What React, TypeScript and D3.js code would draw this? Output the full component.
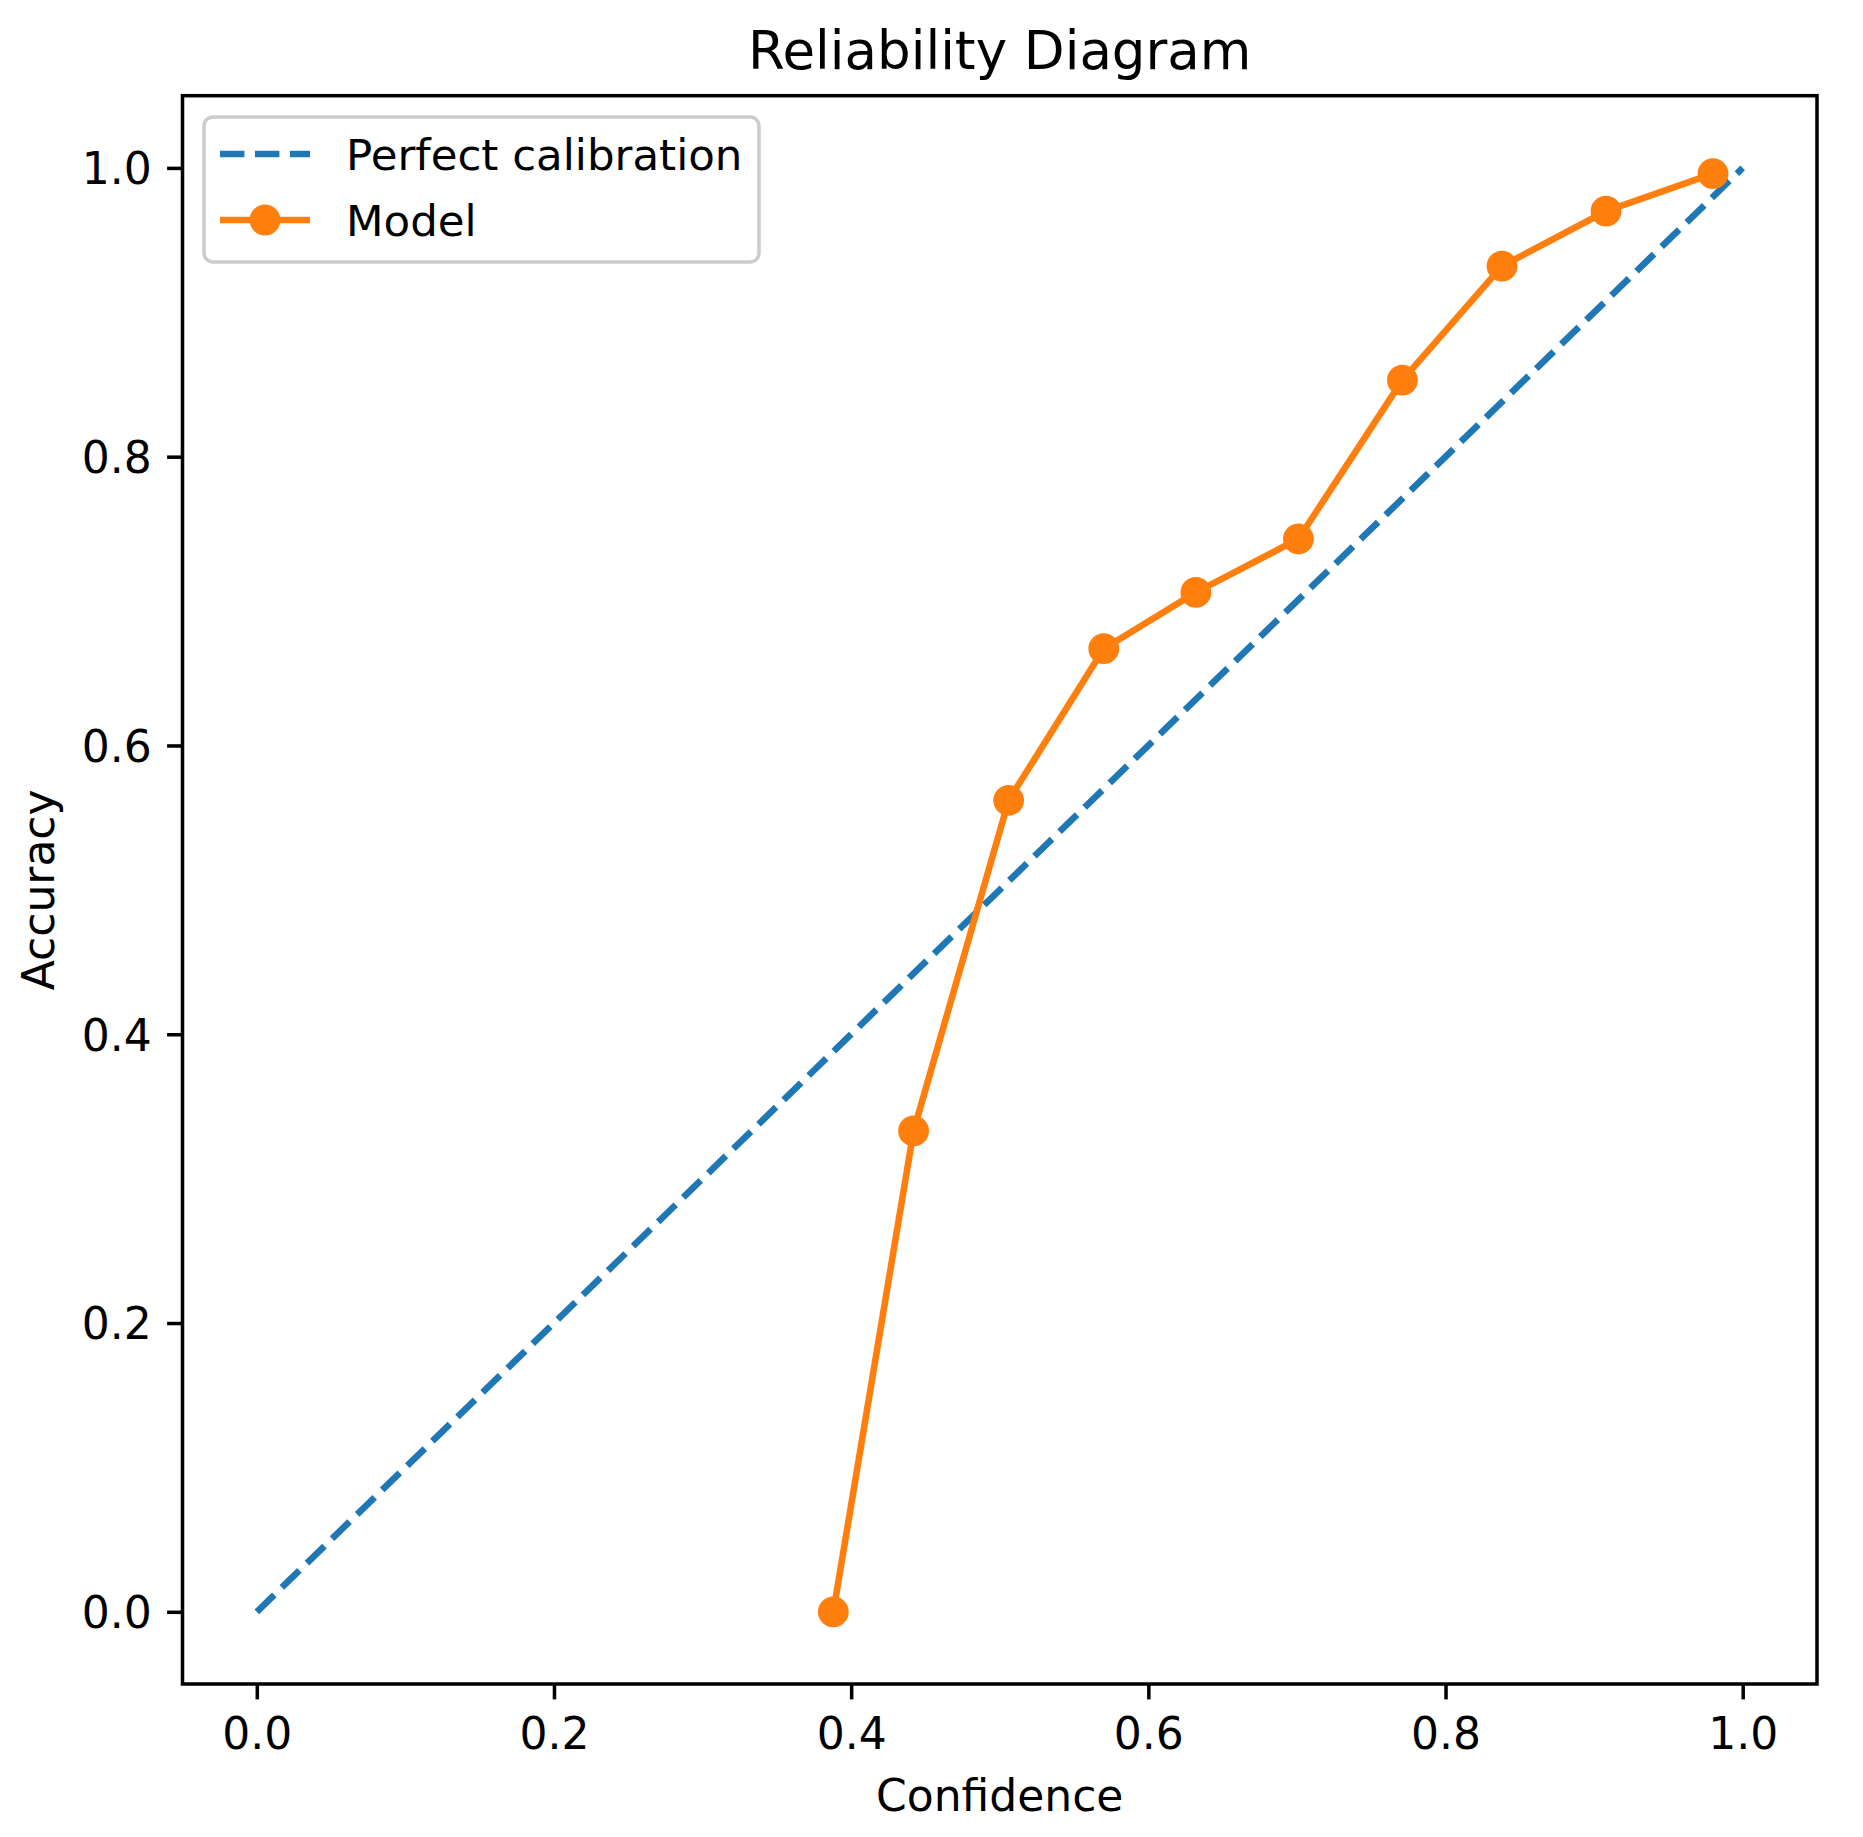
import * as d3 from 'd3';
import React, { useEffect, useRef } from 'react';

// binned confidence vs. observed accuracy
const confidence = [0.388, 0.442, 0.506, 0.570, 0.632, 0.701, 0.771, 0.838, 0.908, 0.980];
const accuracy = [0.0, 0.333, 0.562, 0.667, 0.706, 0.743, 0.853, 0.932, 0.970, 0.996];

// diagonal reference
const perfect = [0, 1];

const xTicks = [0, 0.2, 0.4, 0.6, 0.8, 1.0];
const yTicks = [0, 0.2, 0.4, 0.6, 0.8, 1.0];

const seriesNames = ['Perfect calibration', 'Model'];

const WIDTH = 1863;
const HEIGHT = 1837;

export default function App() {
    const ref = useRef(null);

    useEffect(() => {
        const el = ref.current;
        d3.select(el).selectAll('*').remove();

        const font = 'DejaVu Sans, Liberation Sans, sans-serif';
        const pt = 4.4; // px per point
        const blue = '#1f77b4';
        const orange = '#ff7f0e';

        const box = { left: 182.5, right: 1817, top: 95.7, bottom: 1684 };

        const svg = d3.select(el)
            .attr('width', WIDTH)
            .attr('height', HEIGHT)
            .style('background', 'white');

        svg.append('rect')
            .attr('width', WIDTH)
            .attr('height', HEIGHT)
            .attr('fill', 'white');

        const x = d3.scaleLinear()
            .domain([-0.05, 1.05])
            .range([box.left, box.right]);

        const y = d3.scaleLinear()
            .domain([-0.05, 1.05])
            .range([box.bottom, box.top]);

        // axes
        const xAxis = d3.axisBottom(x)
            .tickValues(xTicks)
            .tickFormat(d3.format('.1f'))
            .tickSize(3.5 * pt)
            .tickPadding(3.5 * pt)
            .tickSizeOuter(0);

        const yAxis = d3.axisLeft(y)
            .tickValues(yTicks)
            .tickFormat(d3.format('.1f'))
            .tickSize(3.5 * pt)
            .tickPadding(3.5 * pt)
            .tickSizeOuter(0);

        const gx = svg.append('g')
            .attr('transform', `translate(0,${box.bottom})`)
            .call(xAxis);
        gx.select('.domain').remove();
        gx.selectAll('line').attr('stroke', 'black').attr('stroke-width', 0.8 * pt);
        gx.selectAll('text')
            .attr('fill', 'black')
            .attr('font-family', font)
            .attr('font-size', 44)
            .attr('dy', null)
            .attr('y', 65);

        const gy = svg.append('g')
            .attr('transform', `translate(${box.left},0)`)
            .call(yAxis);
        gy.select('.domain').remove();
        gy.selectAll('line').attr('stroke', 'black').attr('stroke-width', 0.8 * pt);
        gy.selectAll('text')
            .attr('fill', 'black')
            .attr('font-family', font)
            .attr('font-size', 44)
            .attr('dy', '0.36em');

        // lines
        const line = d3.line()
            .x(d => x(d[0]))
            .y(d => y(d[1]));

        svg.append('path')
            .attr('d', line(perfect.map(v => [v, v])))
            .attr('fill', 'none')
            .attr('stroke', blue)
            .attr('stroke-width', 1.5 * pt)
            .attr('stroke-dasharray', `${3.7 * 1.5 * pt},${1.6 * 1.5 * pt}`);

        const pts = confidence.map((c, i) => [c, accuracy[i]]);

        svg.append('path')
            .attr('d', line(pts))
            .attr('fill', 'none')
            .attr('stroke', orange)
            .attr('stroke-width', 1.5 * pt)
            .attr('stroke-linejoin', 'round');

        svg.selectAll('circle.pt')
            .data(pts)
            .enter()
            .append('circle')
            .attr('class', 'pt')
            .attr('cx', d => x(d[0]))
            .attr('cy', d => y(d[1]))
            .attr('r', 3 * pt)
            .attr('fill', orange)
            .attr('stroke', orange)
            .attr('stroke-width', 1 * pt);

        // frame
        svg.append('rect')
            .attr('x', box.left)
            .attr('y', box.top)
            .attr('width', box.right - box.left)
            .attr('height', box.bottom - box.top)
            .attr('fill', 'none')
            .attr('stroke', 'black')
            .attr('stroke-width', 0.8 * pt);

        // legend
        const legend = svg.append('g');
        legend.append('rect')
            .attr('x', 204)
            .attr('y', 117)
            .attr('width', 555)
            .attr('height', 145)
            .attr('rx', 9)
            .attr('fill', 'white')
            .attr('fill-opacity', 0.8)
            .attr('stroke', '#cccccc')
            .attr('stroke-width', 3.5);

        const rows = [154, 220];
        legend.append('line')
            .attr('x1', 220).attr('x2', 310)
            .attr('y1', rows[0]).attr('y2', rows[0])
            .attr('stroke', blue)
            .attr('stroke-width', 1.5 * pt)
            .attr('stroke-dasharray', `${3.7 * 1.5 * pt},${1.6 * 1.5 * pt}`);
        legend.append('line')
            .attr('x1', 220).attr('x2', 310)
            .attr('y1', rows[1]).attr('y2', rows[1])
            .attr('stroke', orange)
            .attr('stroke-width', 1.5 * pt);
        legend.append('circle')
            .attr('cx', 265).attr('cy', rows[1])
            .attr('r', 3 * pt)
            .attr('fill', orange)
            .attr('stroke', orange)
            .attr('stroke-width', 1 * pt);

        seriesNames.forEach((name, i) => {
            legend.append('text')
                .attr('x', 346)
                .attr('y', rows[i] + 16)
                .attr('fill', 'black')
                .attr('font-family', font)
                .attr('font-size', 43.5)
                .text(name);
        });

        // titles
        svg.append('text')
            .attr('x', (box.left + box.right) / 2)
            .attr('y', 69)
            .attr('text-anchor', 'middle')
            .attr('fill', 'black')
            .attr('font-family', font)
            .attr('font-size', 53)
            .text('Reliability Diagram');

        svg.append('text')
            .attr('x', (box.left + box.right) / 2)
            .attr('y', 1811)
            .attr('text-anchor', 'middle')
            .attr('fill', 'black')
            .attr('font-family', font)
            .attr('font-size', 44)
            .text('Confidence');

        svg.append('text')
            .attr('transform', `translate(54,${(box.top + box.bottom) / 2})rotate(-90)`)
            .attr('text-anchor', 'middle')
            .attr('fill', 'black')
            .attr('font-family', font)
            .attr('font-size', 44)
            .text('Accuracy');
    }, []);

    return (
        <svg ref={ref} style={{ position: 'absolute', left: 0, top: 0, display: 'block' }} />
    );
}
